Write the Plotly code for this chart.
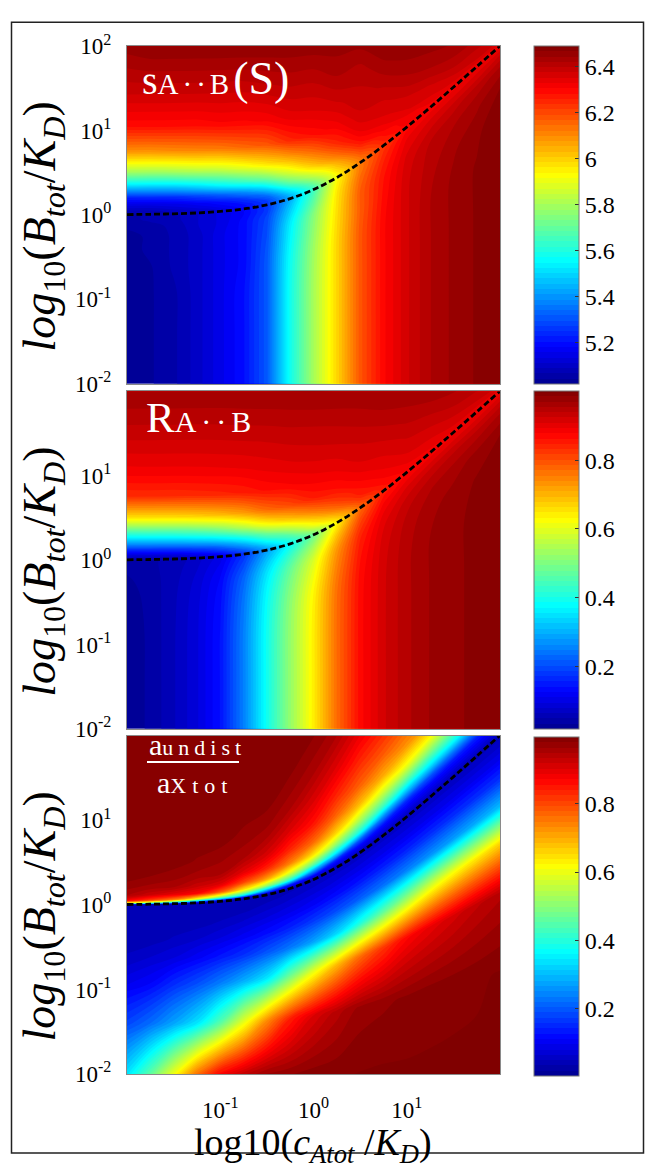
import numpy as np
import plotly.graph_objects as go

# ---------------------------------------------------------------------------
# Sampling grid.  Columns: log10(c_Atot/K_D).  Rows: signed fraction of the
# distance from the curve B_tot = K_D + c_Atot to the lower (-1) or upper (+1)
# edge of the sampled band, so that rows follow the dashed curve.
# ---------------------------------------------------------------------------
log_c_nodes = [-2, -1.75, -1.5, -1.25, -1, -0.75, -0.5, -0.25, 0,
               0.25, 0.5, 0.75, 1, 1.25, 1.5, 1.75, 2]
row_fracs = [-1, -0.7, -0.47, -0.32, -0.21, -0.13, -0.07, -0.03, -0.01, 0,
             0.008, 0.02, 0.045, 0.08, 0.13, 0.2, 0.3, 0.42, 0.58, 0.78, 1.0]
Y_BOTTOM, Y_TOP = -2.0, 2.5

# Dashed curve B_tot = K_D + c_Atot (in units of K_D), one point per column
curve_c = [0.01, 0.0178, 0.0316, 0.0562, 0.1, 0.178, 0.316, 0.562, 1.0,
           1.78, 3.16, 5.62, 10.0, 17.8, 31.6, 56.2, 100.0]
curve_b = [1.01, 1.018, 1.032, 1.056, 1.1, 1.178, 1.316, 1.562, 2.0,
           2.78, 4.16, 6.62, 11.0, 18.8, 32.6, 57.2, 101.0]

# s_A..B(S), one list per column (bottom row first)
s_AB_cols = [
    [5.02, 5.02, 5.02, 5.02, 5.03, 5.03, 5.05, 5.06, 5.06, 5.06, 5.07, 5.09, 5.14, 5.23, 5.48, 5.79, 6.09, 6.29, 6.38, 6.45, 6.48],
    [5.04, 5.04, 5.04, 5.04, 5.05, 5.05, 5.06, 5.07, 5.07, 5.07, 5.08, 5.09, 5.14, 5.24, 5.48, 5.79, 6.09, 6.29, 6.38, 6.46, 6.48],
    [5.06, 5.06, 5.06, 5.07, 5.07, 5.07, 5.07, 5.08, 5.08, 5.08, 5.09, 5.11, 5.15, 5.25, 5.49, 5.80, 6.10, 6.29, 6.38, 6.46, 6.48],
    [5.10, 5.10, 5.10, 5.10, 5.10, 5.10, 5.11, 5.11, 5.11, 5.11, 5.11, 5.13, 5.17, 5.28, 5.52, 5.82, 6.11, 6.29, 6.38, 6.46, 6.48],
    [5.15, 5.15, 5.15, 5.15, 5.15, 5.15, 5.14, 5.14, 5.14, 5.14, 5.14, 5.16, 5.20, 5.32, 5.57, 5.84, 6.12, 6.30, 6.38, 6.46, 6.48],
    [5.20, 5.20, 5.20, 5.19, 5.19, 5.19, 5.19, 5.18, 5.18, 5.18, 5.19, 5.20, 5.25, 5.38, 5.63, 5.89, 6.15, 6.30, 6.38, 6.46, 6.48],
    [5.31, 5.31, 5.31, 5.31, 5.30, 5.29, 5.28, 5.26, 5.26, 5.26, 5.26, 5.27, 5.34, 5.49, 5.72, 5.96, 6.18, 6.31, 6.39, 6.46, 6.48],
    [5.58, 5.58, 5.58, 5.57, 5.55, 5.53, 5.49, 5.46, 5.44, 5.43, 5.44, 5.46, 5.54, 5.69, 5.86, 6.04, 6.25, 6.34, 6.40, 6.46, 6.48],
    [5.80, 5.80, 5.80, 5.79, 5.77, 5.75, 5.70, 5.67, 5.65, 5.64, 5.65, 5.68, 5.75, 5.86, 6.01, 6.14, 6.29, 6.35, 6.40, 6.46, 6.48],
    [5.99, 5.99, 5.99, 5.99, 5.98, 5.97, 5.96, 5.94, 5.93, 5.93, 5.94, 5.94, 5.98, 6.04, 6.14, 6.25, 6.32, 6.37, 6.42, 6.46, 6.48],
    [6.18, 6.18, 6.18, 6.18, 6.17, 6.17, 6.15, 6.13, 6.13, 6.12, 6.12, 6.13, 6.16, 6.21, 6.28, 6.33, 6.37, 6.39, 6.41, 6.46, 6.48],
    [6.30, 6.30, 6.30, 6.30, 6.29, 6.28, 6.26, 6.24, 6.23, 6.23, 6.24, 6.25, 6.27, 6.29, 6.32, 6.35, 6.37, 6.40, 6.44, 6.47, 6.48],
    [6.37, 6.37, 6.37, 6.37, 6.37, 6.36, 6.34, 6.32, 6.30, 6.30, 6.30, 6.31, 6.32, 6.32, 6.35, 6.36, 6.39, 6.42, 6.45, 6.47, 6.48],
    [6.42, 6.42, 6.42, 6.42, 6.41, 6.40, 6.37, 6.34, 6.32, 6.31, 6.32, 6.32, 6.33, 6.34, 6.36, 6.37, 6.40, 6.43, 6.45, 6.47, 6.48],
    [6.45, 6.45, 6.45, 6.45, 6.44, 6.42, 6.39, 6.35, 6.33, 6.32, 6.33, 6.33, 6.34, 6.36, 6.37, 6.39, 6.41, 6.43, 6.45, 6.46, 6.47],
    [6.47, 6.47, 6.47, 6.47, 6.46, 6.44, 6.41, 6.36, 6.34, 6.32, 6.32, 6.33, 6.34, 6.36, 6.38, 6.39, 6.40, 6.42, 6.43, 6.45, 6.46],
    [6.49, 6.49, 6.49, 6.49, 6.49, 6.47, 6.43, 6.38, 6.34, 6.33, 6.33, 6.34, 6.34, 6.36, 6.37, 6.39, 6.40, 6.42, 6.43, 6.45, 6.46],
]

# R_A..B, one list per column
R_AB_cols = [
    [.02, .02, .02, .021, .024, .028, .033, .037, .039, .04, .059, .085, .159, .285, .441, .653, .831, .886, .926, .966, .99],
    [.035, .035, .035, .036, .037, .039, .042, .044, .045, .045, .062, .09, .164, .29, .446, .656, .832, .887, .926, .966, .99],
    [.06, .06, .06, .059, .058, .056, .054, .052, .05, .05, .067, .097, .171, .296, .452, .66, .832, .887, .926, .966, .99],
    [.09, .09, .09, .089, .086, .082, .077, .073, .071, .07, .085, .117, .188, .312, .468, .67, .835, .888, .926, .966, .99],
    [.14, .14, .14, .137, .132, .125, .114, .106, .102, .1, .117, .148, .219, .34, .498, .688, .84, .89, .927, .966, .99],
    [.25, .25, .25, .244, .234, .22, .198, .182, .174, .17, .187, .213, .286, .391, .554, .719, .849, .893, .929, .967, .99],
    [.39, .39, .39, .383, .37, .35, .322, .298, .285, .28, .291, .316, .38, .474, .625, .769, .865, .9, .931, .968, .99],
    [.52, .52, .52, .513, .495, .471, .435, .402, .387, .38, .394, .413, .464, .562, .688, .805, .875, .907, .935, .969, .99],
    [.64, .64, .64, .634, .613, .587, .544, .507, .49, .48, .499, .525, .597, .668, .76, .849, .885, .913, .938, .971, .99],
    [.77, .77, .77, .766, .749, .728, .69, .655, .638, .63, .643, .663, .704, .766, .822, .863, .893, .918, .942, .972, .99],
    [.87, .87, .87, .868, .858, .843, .815, .79, .777, .77, .777, .789, .814, .846, .864, .886, .91, .925, .948, .973, .99],
    [.92, .92, .92, .919, .914, .903, .885, .865, .855, .85, .852, .856, .863, .874, .887, .901, .915, .933, .955, .975, .99],
    [.95, .95, .95, .95, .945, .934, .914, .892, .881, .875, .878, .881, .887, .894, .904, .914, .926, .941, .959, .977, .99],
    [.97, .97, .97, .97, .965, .952, .93, .902, .887, .88, .883, .886, .893, .9, .907, .917, .929, .945, .964, .977, .989],
    [.98, .98, .98, .98, .975, .963, .939, .91, .894, .885, .888, .892, .899, .907, .915, .924, .937, .949, .962, .975, .988],
    [.99, .99, .99, .99, .986, .973, .946, .914, .896, .885, .887, .891, .898, .907, .918, .926, .936, .947, .957, .968, .981],
    [1.0, 1.0, 1.0, 1.0, .997, .985, .956, .923, .901, .89, .892, .895, .9, .91, .92, .93, .94, .95, .96, .97, .98],
]

# a_undist / a_Xtot, one list per column
a_ratio_cols = [
    [.341, .18, .095, .053, .04, .04, .04, .04, .04, .04, .62, .877, .952, .97, .99, .99, .99, .99, .99, .99, .99],
    [.458, .22, .113, .067, .041, .04, .04, .04, .04, .04, .51, .81, .922, .96, .981, .99, .99, .99, .99, .99, .99],
    [.604, .275, .153, .081, .052, .04, .04, .04, .04, .04, .4, .75, .898, .953, .973, .99, .99, .99, .99, .99, .99],
    [.76, .339, .188, .105, .063, .044, .04, .04, .04, .04, .27, .62, .872, .925, .96, .98, .99, .99, .99, .99, .99],
    [.875, .448, .234, .132, .08, .053, .04, .04, .04, .04, .186, .488, .783, .899, .952, .969, .99, .99, .99, .99, .99],
    [.93, .59, .287, .159, .101, .067, .046, .04, .04, .04, .124, .39, .641, .802, .898, .953, .975, .99, .99, .99, .99],
    [.97, .731, .348, .196, .121, .082, .058, .044, .04, .04, .1, .243, .516, .713, .836, .91, .959, .982, .99, .99, .99],
    [.98, .842, .474, .234, .143, .096, .069, .053, .046, .04, .08, .141, .409, .585, .744, .835, .906, .955, .982, .99, .99],
    [.99, .905, .59, .275, .166, .109, .078, .06, .052, .04, .068, .109, .254, .461, .636, .766, .854, .906, .955, .984, .99],
    [.994, .943, .685, .329, .188, .122, .084, .065, .056, .04, .059, .087, .148, .332, .5, .657, .771, .839, .903, .957, .987],
    [.998, .971, .767, .401, .209, .132, .089, .067, .057, .04, .053, .073, .115, .2, .39, .526, .678, .773, .837, .902, .955],
    [1.0, .978, .82, .463, .227, .141, .092, .069, .058, .04, .049, .063, .092, .132, .241, .414, .562, .7, .785, .848, .905],
    [1.0, .984, .868, .519, .243, .146, .094, .068, .057, .04, .047, .057, .078, .108, .15, .284, .451, .605, .724, .791, .846],
    [1.0, .99, .893, .575, .258, .152, .095, .067, .055, .04, .045, .053, .069, .091, .123, .192, .338, .472, .62, .74, .792],
    [1.0, .993, .913, .611, .272, .156, .095, .066, .053, .04, .044, .05, .062, .079, .103, .136, .229, .361, .487, .624, .722],
    [1.0, .995, .932, .637, .286, .159, .095, .064, .051, .04, .043, .047, .055, .068, .085, .11, .144, .232, .359, .473, .582],
    [1.0, .998, .946, .661, .299, .162, .094, .062, .048, .04, .042, .044, .05, .058, .068, .084, .106, .132, .188, .287, .396],
]

# Colour bar ticks
s_ticks = [5.2, 5.4, 5.6, 5.8, 6.0, 6.2, 6.4]
s_ticktext = ["5.2", "5.4", "5.6", "5.8", "6", "6.2", "6.4"]
frac_ticks = [0.2, 0.4, 0.6, 0.8]
frac_ticktext = ["0.2", "0.4", "0.6", "0.8"]

W, H = 645, 1168
SERIF = "Liberation Serif"

# MATLAB-style jet
jet = [[0.0, "rgb(0,0,143)"], [0.111, "rgb(0,0,255)"], [0.365, "rgb(0,255,255)"],
       [0.619, "rgb(255,255,0)"], [0.873, "rgb(255,0,0)"], [1.0, "rgb(128,0,0)"]]


def px(xp):
    return xp / W


def py(yp):
    return 1 - yp / H


# node coordinates of the curvilinear sampling grid
line_level = np.log10(curve_b)
grid_x = [[lx for lx in log_c_nodes] for _ in row_fracs]
grid_y = [[L + f * ((L - Y_BOTTOM) if f < 0 else (Y_TOP - L)) for L in line_level]
          for f in row_fracs]

panels = [(31, 377), (385, 731), (738, 1085)]
cbars = [(31, 378), (385, 732), (739, 1087)]
x_left, x_right = 127, 500
cb_left, cb_width = 534, 45

fields = [np.array(s_AB_cols).T.tolist(), np.array(R_AB_cols).T.tolist(),
          np.array(a_ratio_cols).T.tolist()]
zranges = [(5.02, 6.49), (0.016, 1.0), (0.003, 0.997)]
tick_sets = [(s_ticks, s_ticktext), (frac_ticks, frac_ticktext), (frac_ticks, frac_ticktext)]

hidden_carpet_axis = dict(showgrid=False, showline=False, showticklabels="none",
                          startline=False, endline=False, minorgridcount=0,
                          gridcolor="rgba(0,0,0,0)", linecolor="rgba(0,0,0,0)",
                          tickmode="array", tickvals=[], smoothing=1)

fig = go.Figure()
for i, (z, (zmin, zmax), (tv, tt)) in enumerate(zip(fields, zranges, tick_sets)):
    xa = "x" if i == 0 else f"x{i + 1}"
    ya = "y" if i == 0 else f"y{i + 1}"
    cid = f"grid{i}"
    top, bot = cbars[i]
    fig.add_trace(go.Carpet(
        a=log_c_nodes, b=row_fracs, x=grid_x, y=grid_y, carpet=cid,
        xaxis=xa, yaxis=ya, aaxis=hidden_carpet_axis, baxis=hidden_carpet_axis,
    ))
    fig.add_trace(go.Contourcarpet(
        a=log_c_nodes, b=row_fracs, z=z, carpet=cid, xaxis=xa, yaxis=ya,
        autocontour=False,
        contours=dict(start=zmin, end=zmax, size=(zmax - zmin) / 64,
                      coloring="fill", showlines=False),
        line=dict(width=0, smoothing=1),
        colorscale=jet, zmin=zmin, zmax=zmax,
        colorbar=dict(
            x=px(cb_left), xanchor="left", y=py(top), yanchor="top",
            len=(bot - top) / H, lenmode="fraction",
            thickness=cb_width, thicknessmode="pixels", xpad=0, ypad=0,
            outlinewidth=1, outlinecolor="#777777",
            tickvals=tv, ticktext=tt, ticks="inside", ticklen=4, tickcolor="#333333",
            tickfont=dict(family=SERIF, size=24, color="black"),
        ),
    ))
    fig.add_trace(go.Scatter(
        x=np.log10(curve_c), y=np.log10(curve_b), mode="lines", xaxis=xa, yaxis=ya,
        line=dict(color="black", width=2.8, dash="6px,3px", shape="spline"),
        showlegend=False, hoverinfo="skip",
    ))

layout = dict(
    width=W, height=H, margin=dict(l=0, r=0, t=0, b=0),
    paper_bgcolor="white", plot_bgcolor="white", showlegend=False,
)

ytick_full = ([-2, -1, 0, 1, 2], ["10<sup>-2</sup>", "10<sup>-1</sup>", "10<sup>0</sup>",
                                  "10<sup>1</sup>", "10<sup>2</sup>"])
ytick_short = ([-2, -1, 0, 1], ["10<sup>-2</sup>", "10<sup>-1</sup>", "10<sup>0</sup>",
                                "10<sup>1</sup>"])

for i, (top, bot) in enumerate(panels):
    xkey = "xaxis" if i == 0 else f"xaxis{i + 1}"
    ykey = "yaxis" if i == 0 else f"yaxis{i + 1}"
    ya = "y" if i == 0 else f"y{i + 1}"
    xa = "x" if i == 0 else f"x{i + 1}"
    tv, tt = ytick_full if i == 0 else ytick_short
    layout[xkey] = dict(
        domain=[px(x_left), px(x_right)], range=[-2, 2], anchor=ya,
        showgrid=False, zeroline=False, showline=True, mirror=True,
        linecolor="#8a8a8a", linewidth=1, ticks="",
        showticklabels=(i == 2), tickvals=[-1, 0, 1],
        ticktext=["10<sup>-1</sup>", "10<sup>0</sup>", "10<sup>1</sup>"],
        tickfont=dict(family=SERIF, size=23, color="black"), ticklabelstandoff=15,
    )
    layout[ykey] = dict(
        domain=[py(bot), py(top)], range=[-2, 2], anchor=xa,
        showgrid=False, zeroline=False, showline=True, mirror=True,
        linecolor="#8a8a8a", linewidth=1, ticks="",
        tickvals=tv, ticktext=tt,
        tickfont=dict(family=SERIF, size=23, color="black"), ticklabelstandoff=10,
    )

fig.update_layout(**layout)

# axis titles
ytitle = "<i>log</i><sub>10</sub>(<i>B<sub>tot</sub></i>/<i>K<sub>D</sub></i>)"
for (top, bot) in panels:
    fig.add_annotation(
        text=ytitle, x=px(43), y=py((top + bot) / 2 + 12), xref="paper", yref="paper",
        textangle=-90, showarrow=False, xanchor="center", yanchor="middle",
        font=dict(family=SERIF, size=46, color="black"),
    )
fig.add_annotation(
    text="log10(<i>c<sub>Atot</sub></i> /<i>K<sub>D</sub></i>)",
    x=px(313), y=py(1158), xref="paper", yref="paper", showarrow=False,
    xanchor="center", yanchor="middle", font=dict(family=SERIF, size=38, color="black"),
)

# panel labels
fig.add_annotation(
    text='<span style="font-size:40px">s</span>'
         '<span style="font-size:29px;letter-spacing:4px">A··B</span>'
         '<span style="font-size:46px">(S)</span>',
    x=px(140), y=py(64), xref="paper", yref="paper", showarrow=False,
    xanchor="left", yanchor="middle", font=dict(family=SERIF, size=40, color="white"),
)
fig.add_annotation(
    text='<span style="font-size:43px">R</span>'
         '<span style="font-size:30px;letter-spacing:5px">A··B</span>',
    x=px(144), y=py(412), xref="paper", yref="paper", showarrow=False,
    xanchor="left", yanchor="middle", font=dict(family=SERIF, size=43, color="white"),
)
fig.add_annotation(
    text='<span style="font-size:30px">a</span>'
         '<span style="font-size:22px;letter-spacing:5px">undist</span>',
    x=px(147), y=py(766), xref="paper", yref="paper", showarrow=False,
    xanchor="left", yanchor="bottom", font=dict(family=SERIF, size=22, color="white"),
)
fig.add_annotation(
    text='<span style="font-size:30px">a</span>'
         '<span style="font-size:22px;letter-spacing:6px">Xtot</span>',
    x=px(155), y=py(767), xref="paper", yref="paper", showarrow=False,
    xanchor="left", yanchor="top", font=dict(family=SERIF, size=22, color="white"),
)
fig.add_shape(type="line", xref="paper", yref="paper", x0=px(147), x1=px(239),
              y0=py(765), y1=py(765), line=dict(color="white", width=2))

# outer frame
fig.add_shape(type="rect", xref="paper", yref="paper", x0=px(11.5), x1=px(643.5),
              y0=py(1166), y1=py(6.5), line=dict(color="#222222", width=1.5))

fig.write_html("out.html")
